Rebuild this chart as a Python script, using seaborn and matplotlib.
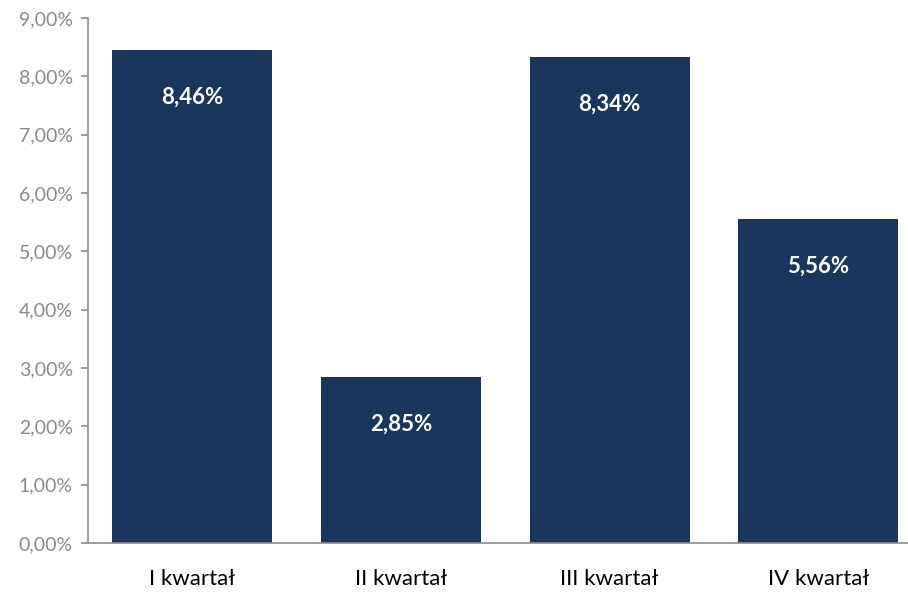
import pandas as pd
import matplotlib.pyplot as plt
import seaborn as sns
import matplotlib.ticker as mtick

# dane
kwartaly = ["I kwartał", "II kwartał", "III kwartał", "IV kwartał"]
wartosci = [8.46, 2.85, 8.34, 5.56]
etykiety = ["8,46%", "2,85%", "8,34%", "5,56%"]

df = pd.DataFrame({"kwartal": kwartaly, "wartosc": wartosci})

sns.set_theme(style="white")
plt.rcParams["font.family"] = ["Lato", "DejaVu Sans"]

fig = plt.figure(figsize=(9.08, 5.95), dpi=100)
ax = fig.add_axes([0.097, 0.0874, 0.903, 0.8823])

sns.barplot(data=df, x="kwartal", y="wartosc", color="#1a365d",
            saturation=1, width=0.767, linewidth=0, ax=ax)

# etykiety na słupkach
for i, (v, t) in enumerate(zip(wartosci, etykiety)):
    ax.annotate(t, (i, v), xytext=(0, -34), textcoords="offset points",
                ha="center", va="center", color="white",
                fontsize=16, fontweight="bold")

ax.set_xlim(-0.5, 3.43)
ax.set_ylim(0, 9)
ax.yaxis.set_major_locator(mtick.MultipleLocator(1))
ax.yaxis.set_major_formatter(mtick.FuncFormatter(lambda v, p: f"{v:.2f}%".replace(".", ",")))

ax.set_xlabel("")
ax.set_ylabel("")

for s in ["top", "right"]:
    ax.spines[s].set_visible(False)
for s in ["left", "bottom"]:
    ax.spines[s].set_color("#8c8c8c")
    ax.spines[s].set_linewidth(1.2)

ax.tick_params(axis="y", left=True, length=5, width=1.2, color="#8c8c8c",
               labelsize=14, labelcolor="#8a8a8a", pad=6)
ax.tick_params(axis="x", bottom=False, labelsize=16, labelcolor="black", pad=13)

fig.savefig("out.png", dpi=100)
